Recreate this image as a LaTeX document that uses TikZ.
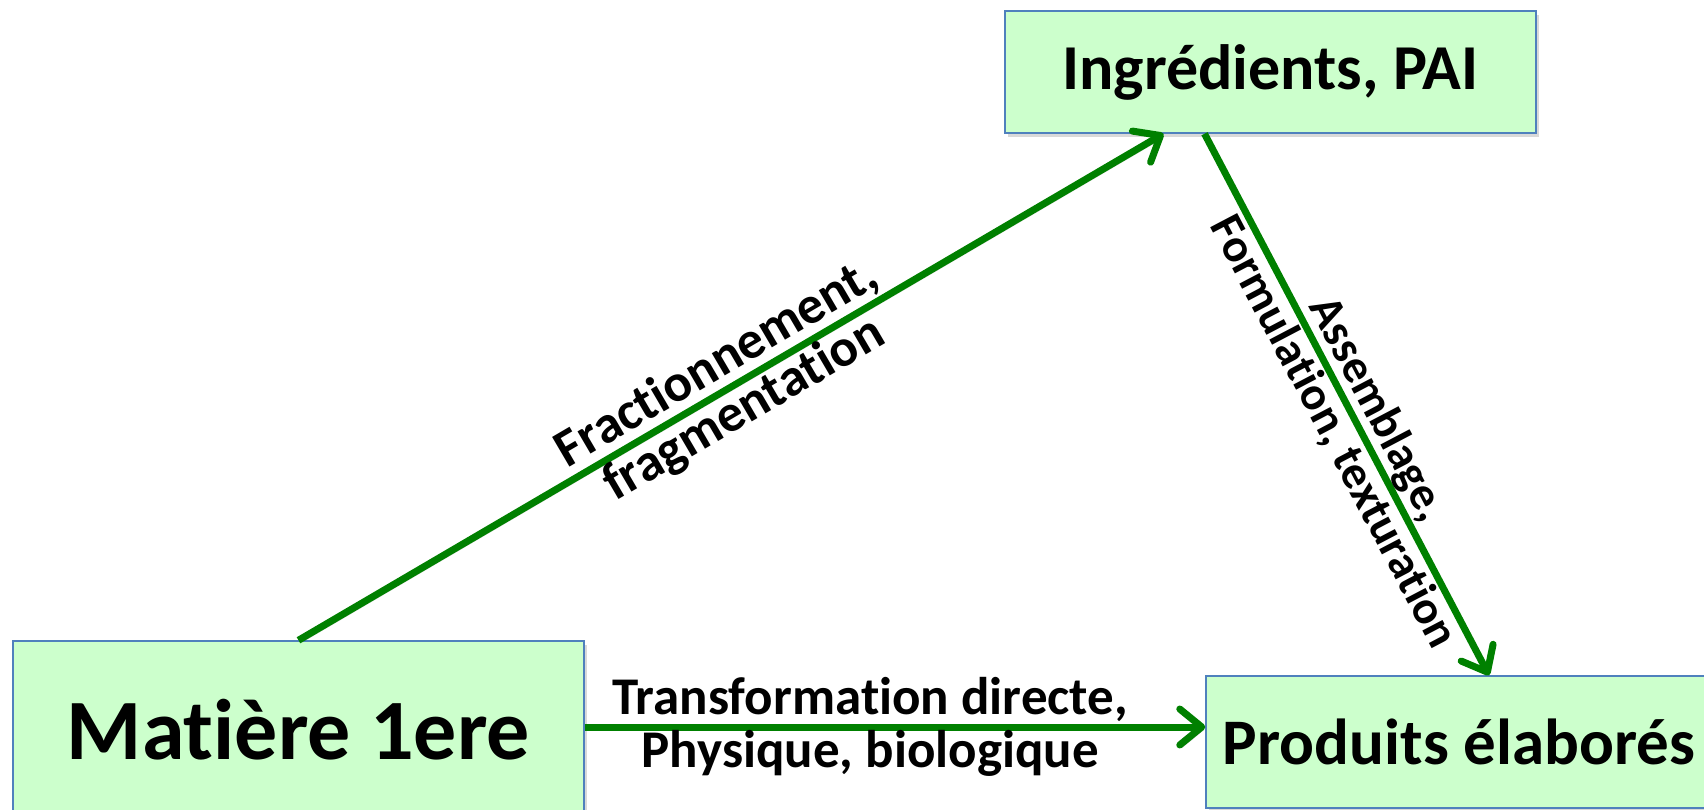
\documentclass[tikz,border=0pt]{standalone}
\usepackage{fontspec}
\setmainfont{Carlito}[Ligatures=NoCommon]
\usetikzlibrary{arrows.meta,shadows}
\definecolor{boxfill}{RGB}{204,255,204}
\definecolor{boxline}{RGB}{79,129,189}
\definecolor{arr}{RGB}{0,128,0}
\begin{document}
\begin{tikzpicture}[x=1pt,y=-1pt,
 box/.style={draw=boxline, line width=1.5pt, fill=boxfill, inner sep=0pt,
   drop shadow={opacity=0.3, shadow xshift=3pt, shadow yshift=-4pt}},
 flow/.style={draw=arr, line width=7pt, -{Straight Barb[length=22pt,width=36pt,round]},
   preaction={draw=black, opacity=0.15, transform canvas={xshift=2pt,yshift=-3pt}}},
 lbl/.style={font=\bfseries\fontsize{53}{53}\selectfont, align=center, text=black},
 lbls/.style={font=\bfseries\fontsize{47}{50}\selectfont, align=center, text=black}]
\useasboundingbox (0,0) rectangle (1704,810);
\clip (0,0) rectangle (1704,810);
\node[box, minimum width=531pt, minimum height=122pt, font=\bfseries\fontsize{64}{70}\selectfont] (ingr) at (1270.5,72) {Ingrédients, PAI};
\node[box, minimum width=571pt, minimum height=178pt, font=\bfseries\fontsize{86}{90}\selectfont] (mat) at (298.5,730) {Matière 1ere};
\node[box, minimum width=506pt, minimum height=132pt, font=\bfseries\fontsize{65}{70}\selectfont] (prod) at (1459,742) {Produits élaborés};
\draw[flow] (mat.north) -- node[lbl, sloped] {Fractionnement,\\fragmentation} ([xshift=-107pt]ingr.south);
\draw[flow] ([xshift=-66pt]ingr.south) -- node[lbls, sloped, pos=0.53] {Assemblage,\\Formulation, texturation} ([xshift=30pt]prod.north);
\draw[flow] ([yshift=3pt]mat.east) -- node[lbl, pos=0.46] {Transformation directe,\\Physique, biologique} ([yshift=3pt]mat.east -| prod.west);
\end{tikzpicture}
\end{document}
